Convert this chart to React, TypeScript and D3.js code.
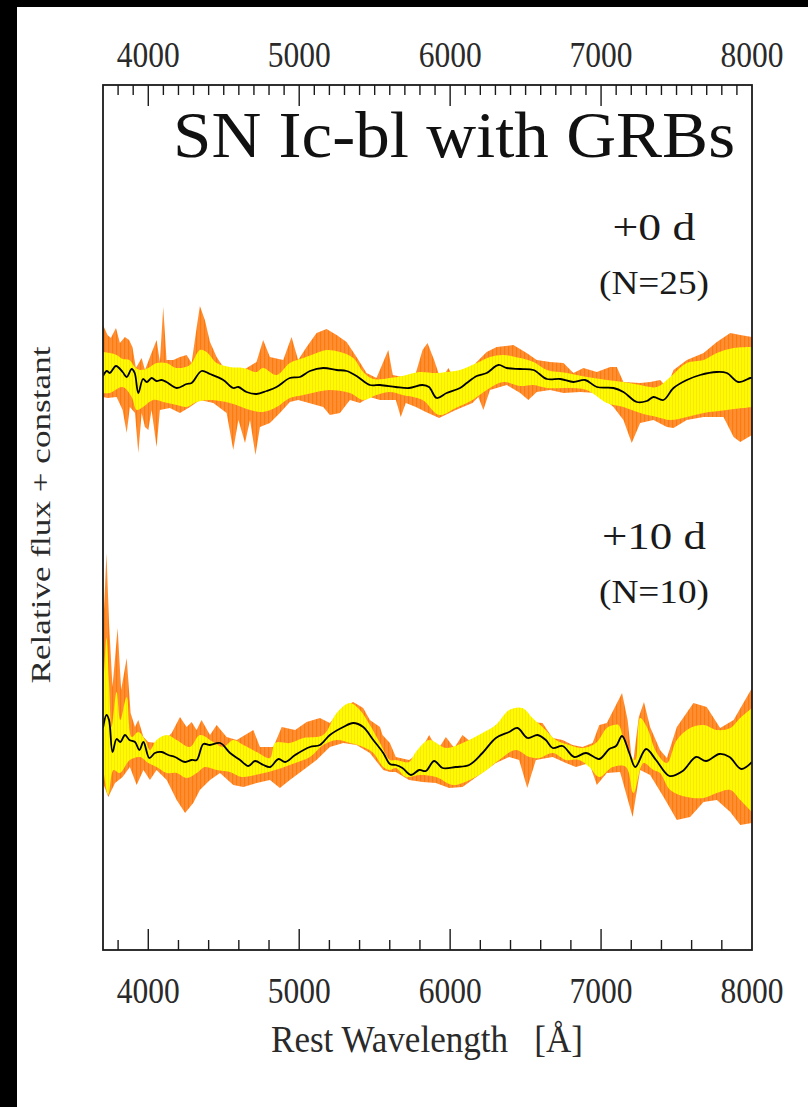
import React from 'react';
import * as d3 from 'd3';

// ---- layout constants ----
const W = 808;
const H = 1107;
const FRAME = { left: 103, right: 752, top: 85, bottom: 950 };

// ---- axis definitions ----
const WAVE_DOMAIN: [number, number] = [3700, 8000];
const FLUX_DOMAIN: [number, number] = [0, 8.65];
const majorTicks = [4000, 5000, 6000, 7000, 8000];
const tickLabels = ['4000', '5000', '6000', '7000', '8000'];
const topMinorStep = 100;
const bottomMinorStep = 200;

// vertical offsets ("+ constant") of the two epochs
const offsetDay0 = 5.71;
const offsetDay10 = 2.01;

// ---- +0 d mean spectrum and spread (relative flux, wavelength in Å) ----
const day0Mean: [number, number][] = [
  [3700, 0.03], [3725, 0.08], [3745, 0.06], [3786, 0.13], [3830, 0.07], [3857, 0.02], [3890, 0.1],
  [3910, 0.06], [3934, -0.14], [3965, 0.0], [3990, -0.03], [4022, 0.01], [4055, -0.02], [4088, -0.01],
  [4120, -0.03], [4188, -0.09], [4254, -0.05], [4287, -0.04], [4353, 0.08], [4408, 0.05], [4497, -0.01],
  [4563, -0.09], [4597, -0.08], [4651, -0.13], [4717, -0.15], [4784, -0.12], [4850, -0.08], [4938, 0.01],
  [5005, 0.02], [5071, 0.08], [5159, 0.11], [5248, 0.09], [5314, 0.08], [5380, 0.03], [5468, -0.06],
  [5535, -0.06], [5640, -0.08], [5728, -0.09], [5817, -0.06], [5860, -0.08], [5911, -0.19], [5977, -0.14],
  [6066, -0.09], [6110, -0.04], [6176, 0.03], [6242, 0.06], [6320, 0.14], [6375, 0.11], [6464, 0.1],
  [6552, 0.09], [6641, 0.0], [6729, 0.0], [6817, -0.03], [6894, -0.01], [6972, -0.08], [7082, -0.09],
  [7148, -0.13], [7237, -0.23], [7303, -0.22], [7347, -0.18], [7413, -0.21], [7480, -0.09], [7568, -0.01],
  [7656, 0.04], [7767, 0.07], [7833, 0.06], [7910, -0.03], [7988, 0.01], [8000, 0.01],
];

const day0InnerHi: [number, number][] = [
  [3700, 0.27], [3745, 0.26], [3790, 0.24], [3830, 0.2], [3875, 0.19], [3910, 0.12], [3945, 0.09],
  [4000, 0.11], [4055, 0.16], [4120, 0.16], [4188, 0.11], [4276, 0.14], [4342, 0.29], [4386, 0.27],
  [4453, 0.16], [4540, 0.12], [4630, 0.11], [4717, 0.07], [4760, 0.11], [4850, 0.04], [4938, 0.16],
  [5027, 0.21], [5115, 0.26], [5181, 0.29], [5270, 0.27], [5358, 0.21], [5424, 0.07], [5490, 0.0],
  [5600, 0.01], [5684, 0.03], [5795, 0.07], [5905, 0.06], [5977, 0.07], [6066, 0.09], [6176, 0.16],
  [6264, 0.22], [6352, 0.24], [6464, 0.21], [6552, 0.17], [6641, 0.09], [6773, 0.06], [6905, 0.02],
  [7038, -0.01], [7148, -0.03], [7259, -0.06], [7369, -0.08], [7458, 0.02], [7568, 0.16], [7679, 0.19],
  [7767, 0.26], [7878, 0.31], [8000, 0.32],
];

const day0InnerLo: [number, number][] = [
  [3700, -0.14], [3745, -0.14], [3830, -0.08], [3890, -0.18], [3923, -0.31], [3965, -0.28], [4033, -0.21],
  [4099, -0.23], [4188, -0.26], [4254, -0.28], [4320, -0.23], [4409, -0.21], [4541, -0.24], [4674, -0.31],
  [4760, -0.33], [4850, -0.28], [4938, -0.19], [5027, -0.16], [5115, -0.13], [5203, -0.11], [5336, -0.14],
  [5424, -0.21], [5512, -0.16], [5601, -0.13], [5684, -0.16], [5817, -0.21], [5927, -0.36], [6037, -0.29],
  [6148, -0.21], [6242, -0.11], [6352, -0.03], [6464, -0.07], [6552, -0.06], [6641, -0.09], [6773, -0.09],
  [6905, -0.11], [7038, -0.24], [7148, -0.28], [7259, -0.34], [7369, -0.38], [7458, -0.41], [7568, -0.38],
  [7679, -0.34], [7833, -0.31], [8000, -0.28],
];

const day0OuterHi: [number, number][] = [
  [3700, 0.54], [3730, 0.44], [3752, 0.41], [3786, 0.51], [3812, 0.36], [3845, 0.42], [3873, 0.39],
  [3895, 0.32], [3918, 0.11], [3956, 0.21], [3978, 0.09], [4011, 0.22], [4055, 0.39], [4077, 0.17],
  [4099, 0.72], [4121, 0.19], [4166, 0.19], [4210, 0.22], [4254, 0.24], [4287, 0.16], [4320, 0.51],
  [4342, 0.73], [4375, 0.59], [4409, 0.37], [4453, 0.22], [4497, 0.12], [4541, 0.11], [4630, 0.09],
  [4717, 0.17], [4761, 0.39], [4806, 0.22], [4894, 0.19], [4949, 0.42], [4993, 0.19], [5049, 0.32],
  [5115, 0.46], [5181, 0.5], [5248, 0.44], [5314, 0.37], [5380, 0.22], [5446, 0.06], [5512, 0.01],
  [5590, 0.29], [5620, 0.04], [5684, 0.02], [5773, 0.06], [5817, 0.29], [5850, 0.36], [5894, 0.19],
  [5938, -0.01], [5960, 0.04], [5988, 0.11], [6022, 0.02], [6066, 0.09], [6110, 0.04], [6176, 0.17],
  [6242, 0.27], [6308, 0.32], [6419, 0.34], [6507, 0.26], [6574, 0.19], [6662, 0.17], [6751, 0.16],
  [6817, 0.06], [6883, 0.11], [6972, 0.07], [7060, 0.12], [7104, 0.12], [7148, -0.03], [7259, -0.04],
  [7325, -0.03], [7391, -0.01], [7436, -0.08], [7480, 0.09], [7568, 0.19], [7679, 0.26], [7767, 0.37],
  [7856, 0.46], [7922, 0.44], [8000, 0.42],
];

const day0OuterLo: [number, number][] = [
  [3700, -0.18], [3730, -0.19], [3790, -0.18], [3830, -0.31], [3857, -0.54], [3878, -0.28], [3912, -0.34],
  [3934, -0.74], [3956, -0.34], [3978, -0.48], [4000, -0.51], [4022, -0.31], [4055, -0.68], [4077, -0.31],
  [4143, -0.29], [4210, -0.34], [4276, -0.28], [4342, -0.21], [4431, -0.24], [4519, -0.34], [4563, -0.71],
  [4597, -0.41], [4641, -0.64], [4674, -0.41], [4710, -0.76], [4740, -0.48], [4806, -0.44], [4872, -0.34],
  [4938, -0.23], [4993, -0.21], [5159, -0.28], [5203, -0.36], [5270, -0.34], [5336, -0.21], [5402, -0.24],
  [5468, -0.18], [5535, -0.21], [5601, -0.21], [5640, -0.21], [5673, -0.38], [5706, -0.24], [5773, -0.28],
  [5839, -0.33], [5927, -0.39], [6037, -0.31], [6148, -0.24], [6187, -0.18], [6220, -0.31], [6264, -0.11],
  [6375, -0.06], [6464, -0.14], [6518, -0.21], [6574, -0.13], [6662, -0.11], [6751, -0.14], [6861, -0.13],
  [6972, -0.14], [7082, -0.28], [7148, -0.41], [7203, -0.64], [7259, -0.44], [7347, -0.41], [7436, -0.48],
  [7480, -0.49], [7568, -0.41], [7679, -0.38], [7811, -0.38], [7878, -0.58], [7922, -0.63], [8000, -0.56],
];

// ---- +10 d mean spectrum and spread ----
const day10Mean: [number, number][] = [
  [3700, 0.21], [3723, 0.34], [3740, 0.29], [3763, -0.03], [3790, 0.1], [3815, 0.07], [3846, 0.14],
  [3875, 0.09], [3912, 0.07], [3941, -0.01], [3968, 0.07], [4007, -0.09], [4044, -0.04], [4089, -0.03],
  [4133, -0.06], [4177, -0.08], [4244, -0.13], [4287, -0.11], [4321, -0.11], [4365, 0.05], [4409, 0.04],
  [4476, 0.06], [4542, -0.04], [4608, -0.11], [4663, -0.17], [4707, -0.12], [4763, -0.16], [4807, -0.18],
  [4863, -0.1], [4907, -0.13], [4973, -0.06], [5071, 0.02], [5137, 0.04], [5203, 0.14], [5292, 0.22],
  [5358, 0.26], [5424, 0.22], [5491, 0.09], [5557, -0.04], [5601, -0.15], [5640, -0.16], [5684, -0.19],
  [5740, -0.26], [5795, -0.21], [5839, -0.22], [5894, -0.12], [5950, -0.19], [6037, -0.18], [6126, -0.16],
  [6214, -0.04], [6303, 0.11], [6391, 0.17], [6446, 0.21], [6513, 0.11], [6579, 0.14], [6634, 0.09],
  [6679, 0.01], [6745, 0.03], [6822, -0.08], [6900, -0.04], [6988, -0.1], [7054, 0.0], [7099, 0.03],
  [7139, 0.13], [7187, -0.04], [7227, -0.18], [7298, 0.0], [7364, -0.11], [7453, -0.27], [7541, -0.22],
  [7629, -0.08], [7696, -0.12], [7784, -0.05], [7851, -0.08], [7928, -0.2], [8000, -0.13],
];

const day10InnerHi: [number, number][] = [
  [3700, 0.52], [3723, 1.11], [3740, 0.66], [3757, 0.22], [3790, 0.57], [3815, 0.29], [3857, 0.52],
  [3890, 0.12], [3934, 0.17], [3979, 0.09], [4011, -0.01], [4055, 0.09], [4122, 0.14], [4188, 0.09],
  [4276, 0.02], [4342, 0.14], [4431, 0.07], [4497, 0.02], [4563, 0.09], [4630, 0.04], [4718, -0.03],
  [4806, -0.09], [4840, 0.06], [4938, 0.06], [5027, 0.11], [5159, 0.14], [5248, 0.36], [5336, 0.46],
  [5402, 0.39], [5468, 0.24], [5535, 0.06], [5601, -0.11], [5640, -0.11], [5728, -0.13], [5773, -0.03],
  [5861, 0.09], [5972, 0.01], [6082, 0.06], [6214, 0.16], [6303, 0.24], [6391, 0.39], [6479, 0.41],
  [6546, 0.31], [6612, 0.22], [6701, 0.09], [6789, 0.04], [6877, 0.01], [6966, 0.06], [7038, 0.21],
  [7082, 0.24], [7115, 0.24], [7148, 0.11], [7181, -0.01], [7226, -0.11], [7259, 0.31], [7303, 0.22],
  [7369, -0.04], [7436, -0.14], [7502, 0.09], [7590, 0.21], [7679, 0.24], [7767, 0.19], [7856, 0.21],
  [7922, 0.31], [8000, 0.41],
];

const day10InnerLo: [number, number][] = [
  [3700, -0.18], [3735, -0.46], [3770, -0.21], [3811, -0.24], [3878, -0.11], [3945, -0.08], [4000, -0.14],
  [4055, -0.18], [4122, -0.24], [4188, -0.24], [4254, -0.29], [4321, -0.24], [4376, -0.18], [4453, -0.21],
  [4541, -0.23], [4619, -0.28], [4707, -0.26], [4796, -0.23], [4884, -0.19], [4973, -0.14], [5071, -0.08],
  [5159, 0.04], [5248, 0.09], [5336, 0.06], [5424, 0.02], [5491, -0.04], [5557, -0.18], [5601, -0.21],
  [5640, -0.19], [5706, -0.28], [5795, -0.26], [5905, -0.28], [6016, -0.36], [6082, -0.34], [6214, -0.24],
  [6324, -0.11], [6435, -0.01], [6524, -0.08], [6590, -0.09], [6679, -0.04], [6767, -0.11], [6855, -0.11],
  [6922, -0.18], [6988, -0.28], [7077, -0.18], [7165, -0.18], [7215, -0.44], [7281, -0.14], [7347, -0.21],
  [7391, -0.24], [7458, -0.41], [7568, -0.48], [7679, -0.49], [7767, -0.44], [7856, -0.41], [7922, -0.51],
  [8000, -0.63],
];

const day10OuterHi: [number, number][] = [
  [3700, 1.16], [3723, 1.96], [3740, 1.26], [3763, 0.62], [3797, 1.21], [3820, 0.59], [3857, 0.91],
  [3883, 0.36], [3912, 0.22], [3934, 0.29], [3968, 0.12], [4000, 0.07], [4055, 0.06], [4099, 0.07],
  [4155, 0.16], [4210, 0.32], [4254, 0.22], [4287, 0.27], [4320, 0.19], [4353, 0.29], [4409, 0.14],
  [4453, 0.24], [4519, 0.12], [4586, 0.09], [4696, 0.19], [4740, 0.02], [4829, 0.02], [4884, 0.22],
  [4973, 0.19], [5049, 0.27], [5137, 0.31], [5203, 0.26], [5292, 0.42], [5358, 0.47], [5424, 0.41],
  [5468, 0.29], [5535, 0.22], [5552, 0.14], [5601, 0.06], [5640, -0.08], [5728, -0.11], [5795, -0.04],
  [5861, 0.14], [5917, -0.01], [5972, 0.12], [6027, 0.01], [6082, 0.14], [6137, 0.07], [6214, 0.11],
  [6303, 0.24], [6370, 0.27], [6420, 0.27], [6535, 0.27], [6612, 0.26], [6679, 0.11], [6745, 0.09],
  [6811, 0.04], [6877, 0.02], [6944, 0.06], [6988, 0.24], [7038, 0.26], [7082, 0.39], [7139, 0.56],
  [7176, 0.29], [7209, -0.18], [7250, 0.32], [7284, 0.47], [7325, 0.22], [7391, -0.01], [7436, -0.09],
  [7502, 0.22], [7612, 0.46], [7700, 0.42], [7789, 0.21], [7878, 0.29], [8000, 0.61],
];

const day10OuterLo: [number, number][] = [
  [3700, -0.34], [3735, -0.48], [3780, -0.34], [3830, -0.28], [3878, -0.18], [3923, -0.36], [3968, -0.21],
  [4011, -0.31], [4055, -0.21], [4122, -0.31], [4188, -0.51], [4244, -0.64], [4298, -0.54], [4342, -0.41],
  [4409, -0.31], [4475, -0.24], [4563, -0.36], [4630, -0.38], [4718, -0.34], [4806, -0.31], [4872, -0.39],
  [4938, -0.31], [5027, -0.21], [5115, -0.11], [5203, 0.02], [5292, 0.06], [5380, 0.04], [5468, -0.04],
  [5557, -0.21], [5601, -0.23], [5640, -0.23], [5728, -0.31], [5817, -0.33], [5905, -0.34], [5994, -0.39],
  [6082, -0.38], [6192, -0.26], [6303, -0.14], [6391, -0.08], [6457, -0.11], [6511, -0.39], [6568, -0.11],
  [6679, -0.08], [6767, -0.14], [6833, -0.18], [6922, -0.14], [6972, -0.36], [7038, -0.24], [7126, -0.23],
  [7209, -0.68], [7259, -0.21], [7325, -0.26], [7414, -0.48], [7502, -0.71], [7590, -0.68], [7679, -0.53],
  [7767, -0.51], [7856, -0.63], [7922, -0.76], [8000, -0.74],
];

const epochLabels = [
  { phase: '+0 d', count: '(N=25)', baseline: 240, phaseWidth: 83 },
  { phase: '+10 d', count: '(N=10)', baseline: 549, phaseWidth: 104 },
];

const SERIF = "'Liberation Serif', 'Times New Roman', Times, serif";

const x = d3.scaleLinear().domain(WAVE_DOMAIN).range([FRAME.left, FRAME.right]);
const y = d3.scaleLinear().domain(FLUX_DOMAIN).range([FRAME.bottom, FRAME.top]);

function linePath(pts: [number, number][], offset: number, curve: d3.CurveFactory) {
  return d3
    .line<[number, number]>()
    .x((d) => x(d[0]))
    .y((d) => y(d[1] + offset))
    .curve(curve)(pts) as string;
}

// closed band between an upper and a lower envelope
function bandPath(hi: [number, number][], lo: [number, number][], offset: number, curve: d3.CurveFactory) {
  const top = linePath(hi, offset, curve);
  const bottom = linePath([...lo].reverse(), offset, curve);
  return top + 'L' + bottom.slice(1) + 'Z';
}

const spectra = [
  { mean: day0Mean, innerHi: day0InnerHi, innerLo: day0InnerLo, outerHi: day0OuterHi, outerLo: day0OuterLo, offset: offsetDay0 },
  { mean: day10Mean, innerHi: day10InnerHi, innerLo: day10InnerLo, outerHi: day10OuterHi, outerLo: day10OuterLo, offset: offsetDay10 },
];

export default function App() {
  const topTicks = d3.range(WAVE_DOMAIN[0] + topMinorStep, WAVE_DOMAIN[1], topMinorStep);
  const bottomTicks = d3.range(3800, WAVE_DOMAIN[1], bottomMinorStep);
  const isMajor = (w: number) => w % 1000 === 0;

  return (
    <svg
      width={W}
      height={H}
      viewBox={`0 0 ${W} ${H}`}
      style={{ position: 'absolute', left: 0, top: 0, background: '#fff' }}
    >
      <defs>
        <pattern id="outerFill" width="4" height="8" patternUnits="userSpaceOnUse">
          <rect width="4" height="8" fill="#FF8E32" />
          <rect x="0" width="1.2" height="8" fill="#FF7A0E" />
        </pattern>
        <pattern id="innerFill" width="3" height="8" patternUnits="userSpaceOnUse">
          <rect width="3" height="8" fill="#FFFA00" />
          <rect x="0" width="1" height="8" fill="#F6E808" />
        </pattern>
        <clipPath id="plotArea">
          <rect x={FRAME.left} y={FRAME.top} width={FRAME.right - FRAME.left} height={FRAME.bottom - FRAME.top} />
        </clipPath>
      </defs>

      {/* dark page edges */}
      <rect x={0} y={0} width={W} height={7} fill="#000" />
      <rect x={0} y={0} width={17} height={H} fill="#000" />

      <g clipPath="url(#plotArea)">
        {spectra.map((s, i) => (
          <g key={i}>
            <path d={bandPath(s.outerHi, s.outerLo, s.offset, d3.curveLinear)} fill="url(#outerFill)" />
            <path d={bandPath(s.innerHi, s.innerLo, s.offset, d3.curveCatmullRom)} fill="url(#innerFill)" />
            <path d={linePath(s.mean, s.offset, d3.curveCatmullRom)} fill="none" stroke="#000" strokeWidth={1.8} />
          </g>
        ))}
      </g>

      {/* frame */}
      <rect
        x={FRAME.left}
        y={FRAME.top}
        width={FRAME.right - FRAME.left}
        height={FRAME.bottom - FRAME.top}
        fill="none"
        stroke="#1a1a1a"
        strokeWidth={1.8}
      />

      {/* top ticks, every 100 Å */}
      {topTicks.map((w) => (
        <line key={`t${w}`} x1={x(w)} x2={x(w)} y1={FRAME.top} y2={FRAME.top + (isMajor(w) ? 21 : 10)} stroke="#1a1a1a" strokeWidth={1.4} />
      ))}
      {/* bottom ticks, every 200 Å */}
      {bottomTicks.map((w) => (
        <line key={`b${w}`} x1={x(w)} x2={x(w)} y1={FRAME.bottom} y2={FRAME.bottom - (isMajor(w) ? 21 : 10)} stroke="#1a1a1a" strokeWidth={1.4} />
      ))}

      {/* tick labels */}
      {majorTicks.map((w, i) => (
        <g key={`l${w}`} fontFamily={SERIF} fontSize={36} fill="#2a2a2a" textAnchor="middle">
          <text x={x(w)} y={66.5} textLength={63} lengthAdjust="spacingAndGlyphs">{tickLabels[i]}</text>
          <text x={x(w)} y={1003} textLength={63} lengthAdjust="spacingAndGlyphs">{tickLabels[i]}</text>
        </g>
      ))}

      {/* title */}
      <text x={173} y={157} fontFamily={SERIF} fontSize={66} fill="#111" textLength={562} lengthAdjust="spacingAndGlyphs">
        SN Ic-bl with GRBs
      </text>

      {/* epoch annotations */}
      {epochLabels.map((e) => (
        <g key={e.phase} fontFamily={SERIF} fill="#1a1a1a" textAnchor="middle">
          <text x={654} y={e.baseline} fontSize={37} textLength={e.phaseWidth} lengthAdjust="spacingAndGlyphs">{e.phase}</text>
          <text x={654} y={e.baseline + 54} fontSize={33} textLength={110} lengthAdjust="spacingAndGlyphs">{e.count}</text>
        </g>
      ))}

      {/* axis titles */}
      <text
        x={271}
        y={1052}
        fontFamily={SERIF}
        fontSize={38}
        fill="#2a2a2a"
        textLength={312}
        lengthAdjust="spacingAndGlyphs"
        style={{ whiteSpace: 'pre' }}
      >
        {'Rest Wavelength   [Å]'}
      </text>
      <text
        transform={`translate(50, 515) rotate(-90)`}
        textAnchor="middle"
        fontFamily={SERIF}
        fontSize={28}
        fill="#2a2a2a"
        textLength={337}
        lengthAdjust="spacingAndGlyphs"
      >
        Relative flux + constant
      </text>
    </svg>
  );
}
